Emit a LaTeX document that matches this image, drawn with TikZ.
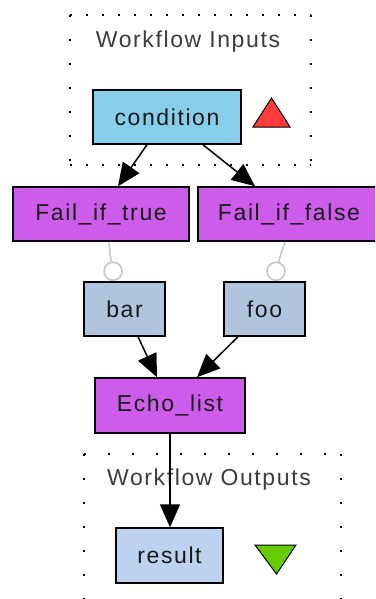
\documentclass[tikz,border=0pt]{standalone}
\usepackage{fontspec}
\setmainfont[LetterSpace=7]{Liberation Sans}
\usetikzlibrary{arrows.meta}

\definecolor{inputblue}{RGB}{135,206,235}
\definecolor{procpurple}{RGB}{205,92,235}
\definecolor{portblue}{RGB}{176,196,222}
\definecolor{outblue}{RGB}{188,210,238}
\definecolor{inred}{RGB}{255,60,60}
\definecolor{outgreen}{RGB}{102,204,0}
\definecolor{linkgray}{RGB}{200,200,200}
\definecolor{labelgray}{RGB}{60,60,60}

\tikzset{
  box/.style={draw=black, line width=1.5pt, rectangle, inner sep=0pt,
    minimum height=54pt, text=black!90,
    font=\fontsize{23}{27}\selectfont},
  inbox/.style={box, fill=inputblue},
  procbox/.style={box, fill=procpurple},
  portbox/.style={box, fill=portblue},
  outbox/.style={box, fill=outblue},
  flow/.style={draw=black, line width=1.5pt,
    -{Triangle[length=23pt,width=20pt]}},
  ctrl/.style={draw=linkgray, line width=1.6pt},
  ctrlring/.style={circle, draw=linkgray, line width=1.6pt, fill=white,
    inner sep=0pt, minimum size=18pt},
  clusterlabel/.style={text=labelgray, font=\fontsize{23}{27}\selectfont},
  hdots/.style={line width=2.2pt, dash pattern=on 2.2pt off 13.8pt},
  vdots/.style={line width=2.2pt, dash pattern=on 2.2pt off 21.8pt},
}

\begin{document}
\begin{tikzpicture}[x=1pt,y=-1pt]
  \useasboundingbox (0,0) rectangle (375,599);
  \clip (0,0) rectangle (375,599);

  % input cluster frame
  \draw[hdots] (70,15) -- (311,15);
  \draw[hdots] (70,165) -- (311,165);
  \draw[vdots] (70,15) -- (70,165);
  \draw[vdots] (311,15) -- (311,165);
  \node[clusterlabel] (inlabel) at (188,42) {Workflow Inputs};

  % output cluster frame (runs past the lower edge)
  \draw[vdots] (84,454) -- (341,454);
  \draw[vdots] (84,454) -- (84,620);
  \draw[vdots] (341,454) -- (341,620);
  \node[clusterlabel] (outlabel) at (209,480) {Workflow Outputs};

  % nodes
  \node[inbox, minimum width=148pt] (cond) at (167,117) {condition};
  \node[procbox, minimum width=176pt] (fit) at (101,214) {Fail\_if\_true};
  \node[procbox, minimum width=182pt] (fif) at (289,214) {Fail\_if\_false};
  \node[portbox, minimum width=81pt] (bar) at (124.5,309) {bar};
  \node[portbox, minimum width=81pt] (foo) at (264.5,309) {foo};
  \node[procbox, minimum width=150pt, minimum height=55pt] (echo) at (170,405.5) {Echo\_list};
  \node[outbox, minimum width=107pt, minimum height=55pt] (result) at (169.5,555.5) {result};

  % port markers
  \draw[fill=inred, line width=1pt] (253,127) -- (271.5,98) -- (290,127) -- cycle;
  \draw[fill=outgreen, line width=1pt] (255,545) -- (296,545) -- (276.5,574) -- cycle;

  % data links
  \draw[flow] ([xshift=-20pt]cond.south) -- ([xshift=17pt]fit.north);
  \draw[flow] ([xshift=36pt]cond.south) -- ([xshift=-34pt]fif.north);
  \draw[flow] ([xshift=13.5pt]bar.south) -- ([xshift=-13pt]echo.north);
  \draw[flow] ([xshift=-26.5pt]foo.south) -- ([xshift=27pt]echo.north);
  \draw[flow] (echo.south) -- (echo.south |- result.north);

  % control links ending in open rings
  \node[ctrlring] (ringbar) at ([xshift=-11.5pt,yshift=10pt]bar.north) {};
  \node[ctrlring] (ringfoo) at ([xshift=11.5pt,yshift=10pt]foo.north) {};
  \draw[ctrl] ([xshift=8pt]fit.south) -- ++(1,12) -- (ringbar);
  \draw[ctrl] ([xshift=-4pt]fif.south) -- ++(-4,12) -- (ringfoo);
\end{tikzpicture}
\end{document}
